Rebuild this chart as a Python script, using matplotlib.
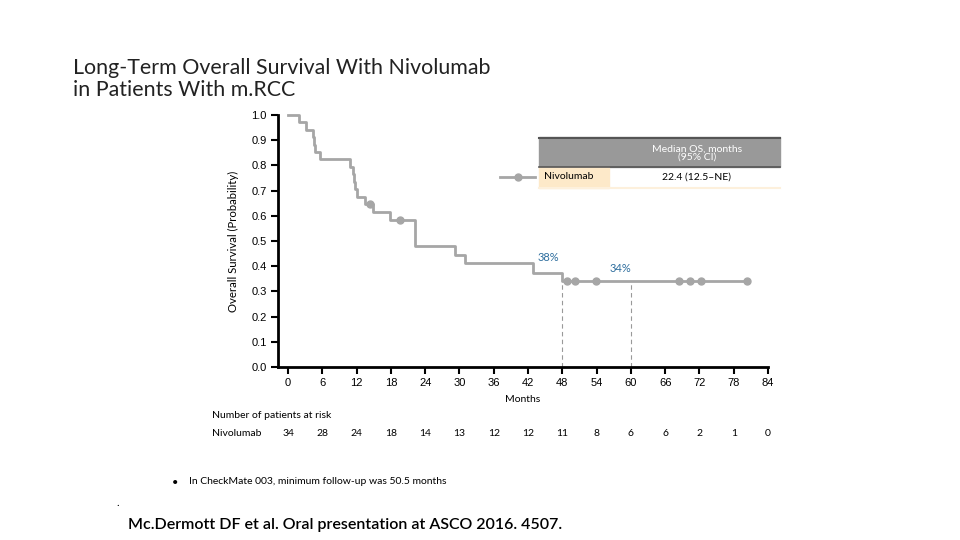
import numpy as np
import matplotlib
matplotlib.use("Agg")
import matplotlib.pyplot as plt
from matplotlib.patches import Rectangle
from matplotlib.lines import Line2D
from matplotlib.transforms import blended_transform_factory

# Kaplan-Meier step data (months, survival probability)
event_months = [0, 2.0, 3.2, 4.4, 4.6, 4.8, 5.6, 10.9, 11.4, 11.6, 11.8, 12.0,
                13.4, 14.9, 17.8, 22.2, 29.3, 30.9, 42.8, 48.0, 80.3]
survival = [1.0, 0.971, 0.941, 0.912, 0.882, 0.853, 0.824, 0.794, 0.765, 0.735,
            0.706, 0.676, 0.647, 0.615, 0.583, 0.480, 0.444, 0.411, 0.375,
            0.342, 0.342]
censor_months = [14.4, 19.6, 48.9, 50.3, 53.9, 68.5, 70.4, 72.3, 80.3]

landmark_months = [48, 60]
landmark_labels = ["38%", "34%"]
landmark_values = [0.375, 0.342]

x_ticks = list(range(0, 85, 6))
y_ticks = [i / 10 for i in range(11)]
at_risk = [34, 28, 24, 18, 14, 13, 12, 12, 11, 8, 6, 6, 2, 1, 0]

arm_name = "Nivolumab"
median_header = "Median OS, months\n(95% CI)"
median_value = "22.4 (12.5\u2013NE)"

title = "Long-Term Overall Survival With Nivolumab\nin Patients With m.RCC"
footnote = "In CheckMate 003, minimum follow-up was 50.5 months"
reference = "Mc.Dermott DF et al. Oral presentation at ASCO 2016. 4507."

GREY = "#a6a6a6"
BLUE = "#2e6e9e"
TXT = ["Lato", "DejaVu Sans"]
TICK = ["Liberation Sans Narrow", "Liberation Sans", "DejaVu Sans"]

W, H = 960, 540
fig = plt.figure(figsize=(9.6, 5.4), dpi=100)


def fx(px):
    return px / W


def fy(py):
    return 1 - py / H


ax = fig.add_axes([fx(278), fy(367), fx(768 - 278), (367 - 115) / H])
ax.set_xlim(-1.75, 84)
ax.set_ylim(0, 1)

ax.step(event_months, survival, where="post", color=GREY, lw=2.0,
        clip_on=False, zorder=3)
surv_arr = np.array(survival)
idx = np.searchsorted(event_months, censor_months, side="right") - 1
ax.plot(censor_months, surv_arr[idx], "o", color=GREY, ms=5, clip_on=False,
        zorder=4)

# landmark dashed drops and percentages
for m, v in zip(landmark_months, landmark_values):
    ax.plot([m, m], [0, v], color="#999999", lw=0.8, ls=(0, (4, 3)), zorder=2)
ax.text(43.7, 0.433, landmark_labels[0], color=BLUE, fontsize=8, family=TXT,
        ha="left", va="center")
ax.text(56.2, 0.389, landmark_labels[1], color=BLUE, fontsize=8, family=TXT,
        ha="left", va="center")

for side in ("top", "right"):
    ax.spines[side].set_visible(False)
ax.spines["left"].set_linewidth(2)
ax.spines["bottom"].set_linewidth(2)
ax.spines["bottom"].set_bounds(-1.75, 84)
ax.set_xticks(x_ticks)
ax.set_yticks(y_ticks)
ax.set_yticklabels([f"{v:.1f}" for v in y_ticks])
ax.tick_params(axis="both", width=1.5, length=5, labelsize=8, pad=3)
for lab in ax.get_xticklabels() + ax.get_yticklabels():
    lab.set_family(TICK)
ax.set_xlabel("Months", family=TXT, fontsize=7.5, labelpad=5)
ax.set_ylabel("Overall Survival (Probability)", family=TXT, fontsize=8.2,
              labelpad=9)

# number at risk
risk_trans = blended_transform_factory(ax.transData, fig.transFigure)
for m, n in zip(x_ticks, at_risk):
    ax.text(m, fy(434), str(n), transform=risk_trans, ha="center",
            va="center", fontsize=7.5, family=TXT)
fig.text(fx(212), fy(416), "Number of patients at risk", fontsize=7.5,
         family=TXT, va="center")
fig.text(fx(212), fy(434), arm_name, fontsize=7.5, family=TXT, va="center")

# median OS table
fig.patches.append(Rectangle((fx(539), fy(167)), fx(780 - 539), (167 - 137) / H,
                             transform=fig.transFigure, color="#999999", zorder=0))
fig.lines.append(Line2D([fx(539), fx(780)], [fy(137.5)] * 2,
                        transform=fig.transFigure, color="#555555", lw=1.5))
fig.lines.append(Line2D([fx(539), fx(780)], [fy(166.5)] * 2,
                        transform=fig.transFigure, color="#555555", lw=1.2))
fig.patches.append(Rectangle((fx(539), fy(188)), fx(609 - 539), (188 - 167) / H,
                             transform=fig.transFigure, color="#fde9c9", zorder=0))
fig.lines.append(Line2D([fx(539), fx(780)], [fy(188)] * 2,
                        transform=fig.transFigure, color="#fdf0dc", lw=1.5))
fig.text(fx(697), fy(153), median_header, color="white", fontsize=7.5,
         family=TXT, ha="center", va="center", linespacing=0.9)
fig.text(fx(544), fy(177), arm_name, fontsize=7.5, family=TXT, va="center")
fig.text(fx(697), fy(177), median_value, fontsize=7.5, family=TXT,
         ha="center", va="center")
fig.lines.append(Line2D([fx(500), fx(535)], [fy(177)] * 2,
                        transform=fig.transFigure, color=GREY, lw=2.0))
fig.lines.append(Line2D([fx(518)], [fy(177)], transform=fig.transFigure,
                        color=GREY, marker="o", ms=5))

fig.text(fx(73), fy(58), title, fontsize=15.4, family=TXT, va="top",
         linespacing=1.1, color="#222222")
fig.text(fx(172), fy(482), "\u2022", fontsize=8, family=TXT, va="center")
fig.text(fx(189), fy(482), footnote, fontsize=7.5, family=TXT, va="center")
fig.text(fx(116), fy(502), ".", fontsize=8, family=TXT, va="center")
fig.text(fx(128), fy(525), reference, fontsize=11.5, family=TXT,
         weight="semibold", va="center")

fig.savefig("out.png", dpi=100)
